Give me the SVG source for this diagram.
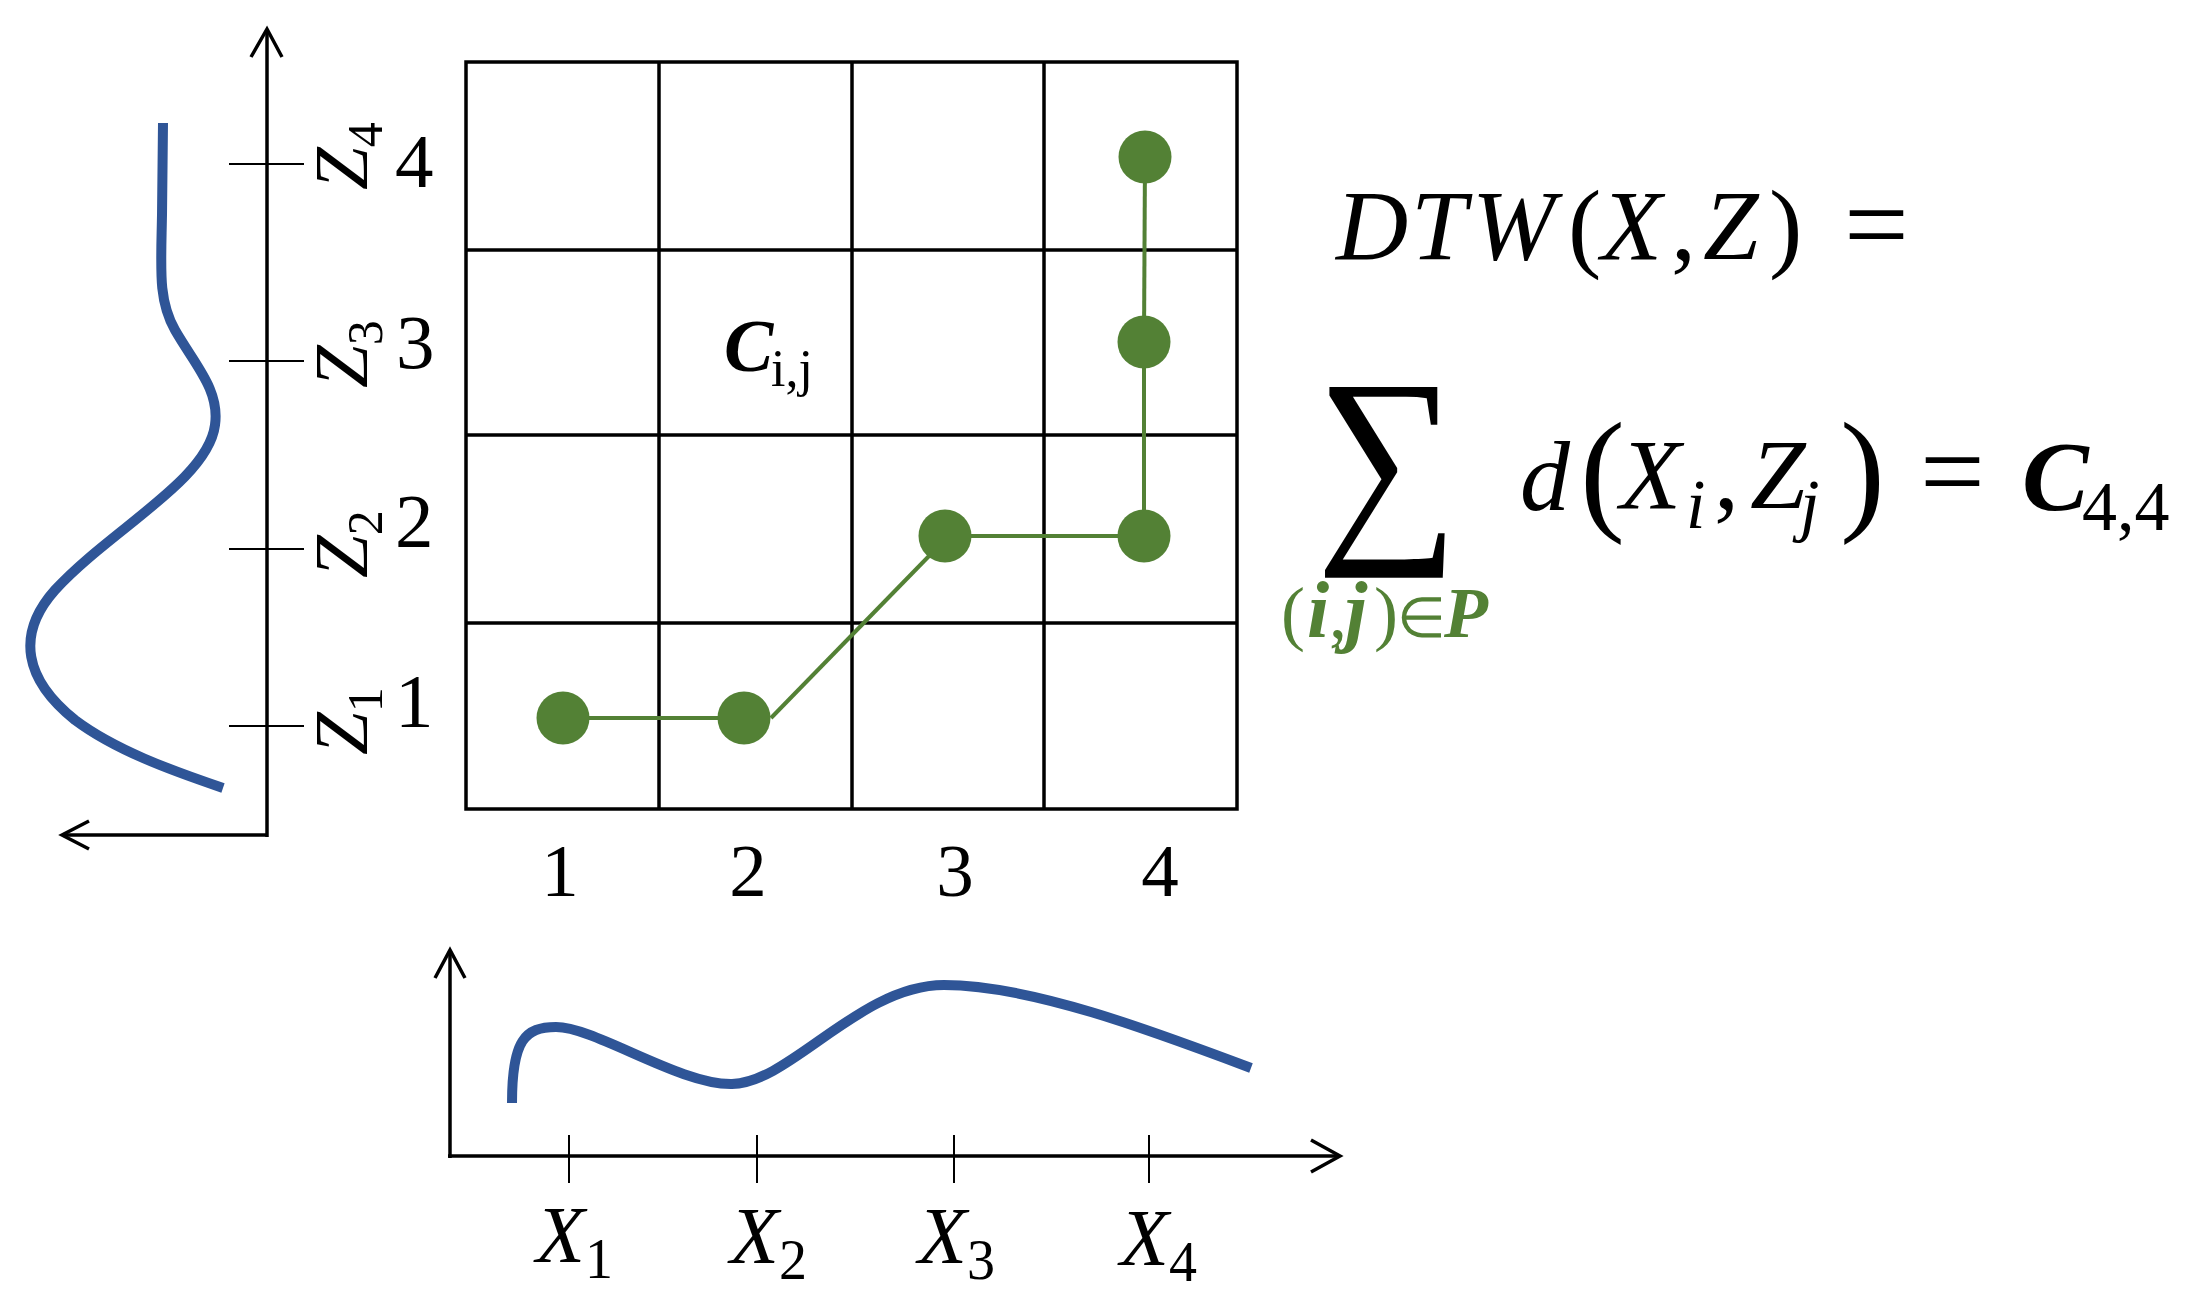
<svg xmlns="http://www.w3.org/2000/svg" width="2188" height="1303" viewBox="0 0 2188 1303">
<style>
.ax{stroke:#000;stroke-width:3.5;fill:none}
.tk{stroke:#000;stroke-width:2;fill:none}
.gl{stroke:#000;stroke-width:3.5;fill:none}
.blue{stroke:#2F5597;stroke-width:10;fill:none}
.gp{stroke:#538135;stroke-width:4;fill:none}
.dot{fill:#538135}
.t{font-family:"Liberation Serif",serif;fill:#000}
.it{font-style:italic}
.bi{font-style:italic;font-weight:bold}
.g{fill:#538135}
</style>
<rect width="2188" height="1303" fill="#fff"/>

<g id="z-axis">
<line class="ax" x1="267" y1="30" x2="267" y2="837"/>
<line class="ax" x1="267" y1="835" x2="63" y2="835"/>
<polyline class="ax" points="251,57 267,29 282,57"/>
<polyline class="ax" points="89,821 62,835 89,849"/>
<line class="tk" x1="229" y1="164" x2="304" y2="164"/>
<line class="tk" x1="229" y1="361" x2="304" y2="361"/>
<line class="tk" x1="229" y1="549" x2="304" y2="549"/>
<line class="tk" x1="229" y1="726" x2="304" y2="726"/>
<path class="blue" d="M163,123 L162,215 C161,270 158,300 175,330 C195,365 220,390 215,425 C208,480 110,530 55,590 C15,635 25,680 75,720 C115,750 170,770 223,788"/>
</g>

<g id="z-labels" class="t">
<text class="it" font-size="77" transform="translate(367,190) rotate(-90)">Z<tspan font-size="50" font-style="normal" dy="15">4</tspan></text>
<text class="it" font-size="77" transform="translate(367,388) rotate(-90)">Z<tspan font-size="50" font-style="normal" dy="15">3</tspan></text>
<text class="it" font-size="77" transform="translate(367,578) rotate(-90)">Z<tspan font-size="50" font-style="normal" dy="15">2</tspan></text>
<text class="it" font-size="77" transform="translate(367,755) rotate(-90)">Z<tspan font-size="50" font-style="normal" dy="15">1</tspan></text>
<text font-size="77" x="395" y="187">4</text>
<text font-size="77" x="396" y="368">3</text>
<text font-size="77" x="395" y="547">2</text>
<text font-size="77" x="395" y="727">1</text>
</g>

<g id="grid">
<rect class="gl" x="466" y="62" width="771" height="747"/>
<line class="gl" x1="659" y1="62" x2="659" y2="809"/>
<line class="gl" x1="852" y1="62" x2="852" y2="809"/>
<line class="gl" x1="1044" y1="62" x2="1044" y2="809"/>
<line class="gl" x1="466" y1="250" x2="1237" y2="250"/>
<line class="gl" x1="466" y1="435" x2="1237" y2="435"/>
<line class="gl" x1="466" y1="623" x2="1237" y2="623"/>
<text class="t bi" font-size="74" x="724" y="371">C</text>
<text class="t" font-size="52" x="771" y="386">i,j</text>
</g>

<g id="grid-numbers" class="t" font-size="75" text-anchor="middle">
<text x="560" y="896">1</text>
<text x="748" y="896">2</text>
<text x="955" y="896">3</text>
<text x="1160" y="896">4</text>
</g>

<g id="connectors">
<line class="gp" x1="563" y1="718" x2="744" y2="718"/>
<line class="gp" x1="771" y1="718" x2="930" y2="555"/>
<line class="gp" x1="945" y1="536" x2="1144" y2="536"/>
<line class="gp" x1="1144" y1="536" x2="1144" y2="342"/>
<line class="gp" x1="1144" y1="342" x2="1145" y2="157"/>
</g>

<g id="path-dots">
<circle class="dot" cx="563" cy="718" r="26.5"/>
<circle class="dot" cx="744" cy="718" r="26.5"/>
<circle class="dot" cx="945" cy="536" r="26.5"/>
<circle class="dot" cx="1144" cy="536" r="26.5"/>
<circle class="dot" cx="1144" cy="342" r="26.5"/>
<circle class="dot" cx="1145" cy="157" r="26.5"/>
</g>

<g id="x-axis">
<line class="ax" x1="450" y1="951" x2="450" y2="1158"/>
<line class="ax" x1="448" y1="1156" x2="1339" y2="1156"/>
<polyline class="ax" points="435,978 450,950 465,978"/>
<polyline class="ax" points="1311,1140 1340,1156 1311,1172"/>
<line class="tk" x1="569" y1="1135" x2="569" y2="1183"/>
<line class="tk" x1="757" y1="1135" x2="757" y2="1183"/>
<line class="tk" x1="954" y1="1135" x2="954" y2="1183"/>
<line class="tk" x1="1149" y1="1135" x2="1149" y2="1183"/>
<path class="blue" d="M512,1103 C512,1040 525,1027 556,1027 C595,1027 680,1085 732,1084 C790,1083 860,985 944,985 C1030,985 1150,1030 1251,1068"/>
</g>

<g id="x-labels" class="t it" font-size="80">
<text x="536" y="1262">X<tspan font-size="56" font-style="normal" dy="16">1</tspan></text>
<text x="730" y="1263">X<tspan font-size="56" font-style="normal" dy="16">2</tspan></text>
<text x="918" y="1263">X<tspan font-size="56" font-style="normal" dy="16">3</tspan></text>
<text x="1120" y="1265">X<tspan font-size="56" font-style="normal" dy="16">4</tspan></text>
</g>

<g id="formula" class="t">
<text class="it" font-size="100" y="259"><tspan x="1336">D</tspan><tspan x="1411">T</tspan><tspan x="1472">W</tspan><tspan x="1568" font-style="normal">(</tspan><tspan x="1601">X</tspan><tspan x="1671" font-style="normal">,</tspan><tspan x="1703">Z</tspan><tspan x="1769" font-style="normal">)</tspan></text>
<text font-size="115" x="1844" y="263">=</text>
<text font-size="200" transform="translate(1316,531) scale(1,1.1)">∑</text>
<text class="g" font-size="72" y="637"><tspan x="1281">(</tspan><tspan x="1307" class="bi" font-size="80">i</tspan><tspan x="1329">,</tspan><tspan x="1345" class="bi" font-size="80">j</tspan><tspan x="1374">)</tspan><tspan x="1397" font-size="56">∈</tspan><tspan x="1444" class="bi">P</tspan></text>
<text class="it" font-size="100" x="1520" y="510">d</text>
<text font-size="135" x="1580" y="516">(</text>
<text class="it" font-size="100" x="1620" y="508">X</text>
<text class="it" font-size="70" x="1686" y="528">i</text>
<text font-size="100" x="1714" y="508">,</text>
<text class="it" font-size="100" x="1750" y="508">Z</text>
<text class="it" font-size="70" x="1800" y="528">j</text>
<text font-size="135" x="1840" y="516">)</text>
<text font-size="115" x="1920" y="510">=</text>
<text class="bi" font-size="100" x="2022" y="510">C</text>
<text font-size="70" x="2082" y="530">4,4</text>
</g>
</svg>
